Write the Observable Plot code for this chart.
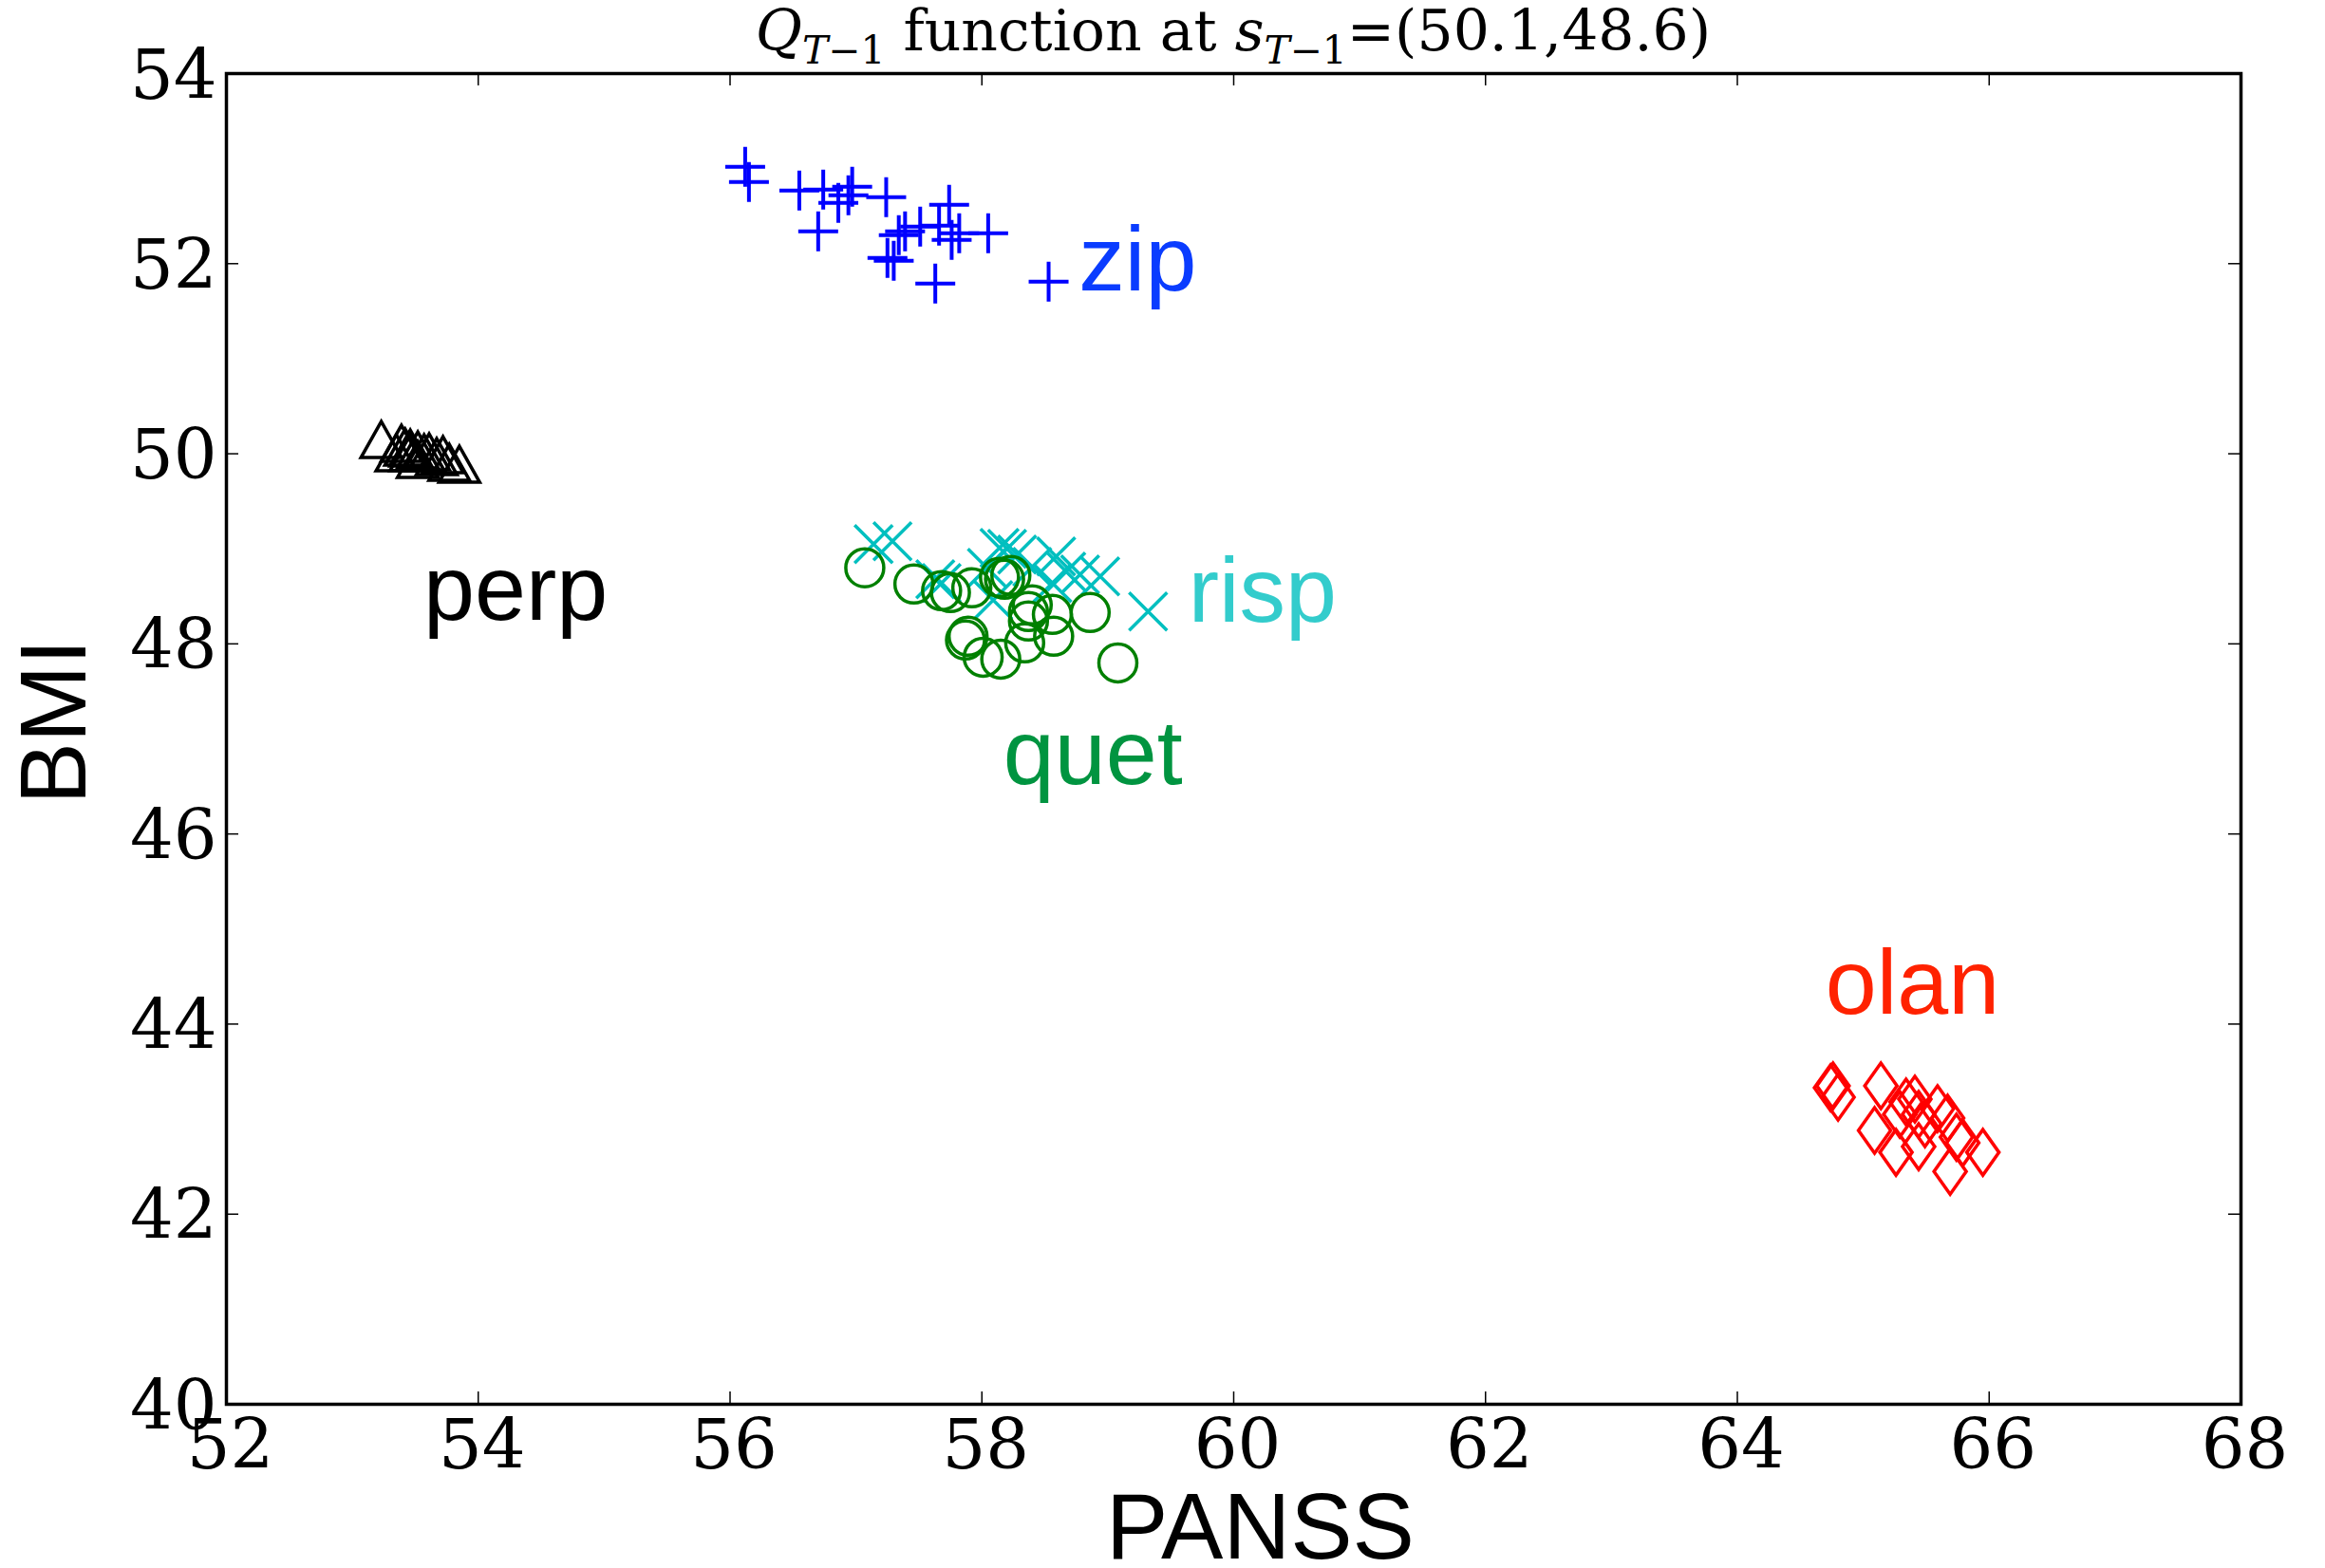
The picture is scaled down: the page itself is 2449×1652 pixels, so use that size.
<!DOCTYPE html>
<html><head><meta charset="utf-8">
<script src="https://cdn.jsdelivr.net/npm/d3@7"></script>
<script src="https://cdn.jsdelivr.net/npm/@observablehq/plot@0.6"></script>
<style>
body{margin:0;background:#fff;}
#wrap{position:relative;width:2449px;height:1652px;}
#title{position:absolute;left:238px;width:2122px;top:2px;text-align:center;font-family:"DejaVu Serif";font-size:60px;line-height:60px;white-space:nowrap;color:#000;z-index:2;}
#title sub{font-size:0.68em;vertical-align:baseline;position:relative;top:0.35em;}
</style></head><body>
<div id="wrap"><div id="title"><i>Q</i><sub><i>T</i>−1</sub> function at <i>s</i><sub><i>T</i>−1</sub>=(50.1,48.6)</div></div>
<script>
// ---- data ----
const zipX = [56.12,56.15,56.55,56.74,56.86,56.94,56.97,57.24,56.70,57.74,57.39,57.34,57.51,57.66,57.76,57.82,58.05,57.25,57.30,57.63,58.53];
const zipY = [53.02,52.86,52.77,52.78,52.64,52.72,52.81,52.70,52.34,52.62,52.34,52.30,52.39,52.40,52.25,52.32,52.32,52.06,52.03,51.79,51.81];
const perpX = [53.23,53.39,53.42,53.46,53.52,53.46,53.57,53.61,53.67,53.72,53.77,53.85,53.52,53.35];
const perpY = [50.15,50.11,50.07,50.06,50.04,50.01,50.01,50.02,49.97,49.99,49.91,49.89,49.94,50.01];
const rispX = [57.14,57.29,57.63,57.68,58.04,58.14,58.20,58.28,58.59,58.67,58.78,58.94,58.09,59.32,58.56,58.40];
const rispY = [49.05,49.08,48.68,48.64,48.80,49.01,49.00,48.94,48.92,48.76,48.73,48.71,48.46,48.34,48.64,48.81];
const quetX = [57.07,57.46,57.68,57.75,57.92,58.14,58.18,58.23,58.40,58.37,58.56,58.86,57.89,57.87,58.01,58.15,58.34,58.57,59.08,58.37];
const quetY = [48.80,48.63,48.56,48.54,48.59,48.70,48.68,48.72,48.41,48.34,48.31,48.33,48.08,48.04,47.86,47.84,48.01,48.08,47.80,48.24];
const olanX = [64.74,64.76,64.80,65.14,65.09,65.26,65.29,65.34,65.41,65.44,65.49,65.59,65.67,65.74,65.79,65.69,65.95,65.44];
const olanY = [43.33,43.35,43.23,43.35,42.88,42.65,43.05,43.18,43.21,42.71,42.95,43.11,43.01,42.81,42.75,42.45,42.65,43.05];
const labelNames = ["zip","perp","risp","quet","olan"];
const labelX = [58.77,53.565,59.64,58.17,64.70];
const labelY = [51.72,48.25,48.23,46.53,44.11];
const labelColors = ["#0a3cff","#000000","#33cccc","#009440","#ff2200"];
const xTicks = [52,54,56,58,60,62,64,66,68];
const yTicks = [40,42,44,46,48,50,52,54];

// ---- layout ----
const W=2449,H=1652,mL=238,mR=89,mT=77,mB=173;
const plotW=W-mL-mR, plotH=H-mT-mB;
const zip = (xs,ys)=>xs.map((x,i)=>({x,y:ys[i]}));

function sym(fn){return {draw(c,size){const r=Math.sqrt(size/Math.PI); fn(c,r);}};}
const plusSym = sym((c,r)=>{const a=1.05*r;c.moveTo(-a,0);c.lineTo(a,0);c.moveTo(0,-a);c.lineTo(0,a);});
const timesSym = sym((c,r)=>{const a=r;c.moveTo(-a,-a);c.lineTo(a,a);c.moveTo(-a,a);c.lineTo(a,-a);});
const triSym = sym((c,r)=>{c.moveTo(0,-0.95*r);c.lineTo(1.07*r,0.95*r);c.lineTo(-1.07*r,0.95*r);c.closePath();});
const circSym = sym((c,r)=>{c.moveTo(r,0);c.arc(0,0,r,0,2*Math.PI);c.closePath();});
const diaSym = sym((c,r)=>{c.moveTo(0,-1.2*r);c.lineTo(0.85*r,0);c.lineTo(0,1.2*r);c.lineTo(-0.85*r,0);c.closePath();});

const labels = labelNames.map((t,i)=>({t,x:labelX[i],y:labelY[i],c:labelColors[i]}));

const chart = Plot.plot({
  width: W, height: H,
  marginLeft: mL, marginRight: mR, marginTop: mT, marginBottom: mB,
  style: {background: "white", overflow: "visible"},
  x: {domain: [52,68], ticks: xTicks},
  y: {domain: [40,54], ticks: yTicks},
  marks: [
    Plot.axisX({ticks: xTicks, tickSize: 0, tickPadding: 16, dx: 4, fontSize: 72, fontFamily: "DejaVu Serif", label: null, tickFormat: d=>String(d)}),
    Plot.axisY({ticks: yTicks, tickSize: 0, tickPadding: 10, dy: 3, fontSize: 72, fontFamily: "DejaVu Serif", label: null, tickFormat: d=>String(d)}),
    Plot.ruleX(xTicks, {insetTop: plotH-13, strokeWidth: 1.5}),
    Plot.ruleX(xTicks, {insetBottom: plotH-13, strokeWidth: 1.5}),
    Plot.ruleY(yTicks, {insetRight: plotW-13, strokeWidth: 1.5}),
    Plot.ruleY(yTicks, {insetLeft: plotW-13, strokeWidth: 1.5}),
    Plot.dot(zip(perpX,perpY), {x:"x", y:"y", r:20, symbol: triSym, stroke:"#000000", strokeWidth:3.5, fill:"none"}),
    Plot.dot(zip(zipX,zipY), {x:"x", y:"y", r:20, symbol: plusSym, stroke:"#0000ff", strokeWidth:4, fill:"none"}),
    Plot.dot(zip(rispX,rispY), {x:"x", y:"y", r:20, symbol: timesSym, stroke:"#00bfbf", strokeWidth:3.5, fill:"none"}),
    Plot.dot(zip(quetX,quetY), {x:"x", y:"y", r:20, symbol: circSym, stroke:"#008000", strokeWidth:3.5, fill:"none"}),
    Plot.dot(zip(olanX,olanY), {x:"x", y:"y", r:20, symbol: diaSym, stroke:"#ff0000", strokeWidth:3.5, fill:"none"}),
    Plot.text(labels, {x:"x", y:"y", text:"t", fill:"c", textAnchor:"start", lineAnchor:"bottom", fontSize: 97, fontFamily: "Liberation Sans"}),
    Plot.text(["PANSS"], {frameAnchor:"bottom", dx: 28, dy: 131, lineAnchor:"middle", fontSize: 98, fontFamily: "Liberation Sans", fill:"#000"}),
    Plot.text(["BMI"], {frameAnchor:"left", dx: -180, dy: 69, rotate: -90, lineAnchor:"middle", fontSize: 98, fontFamily: "Liberation Sans", fill:"#000"}),
    Plot.frame({stroke:"#000", strokeWidth: 3.5})
  ]
});
document.getElementById("wrap").appendChild(chart);
</script>
</body></html>
